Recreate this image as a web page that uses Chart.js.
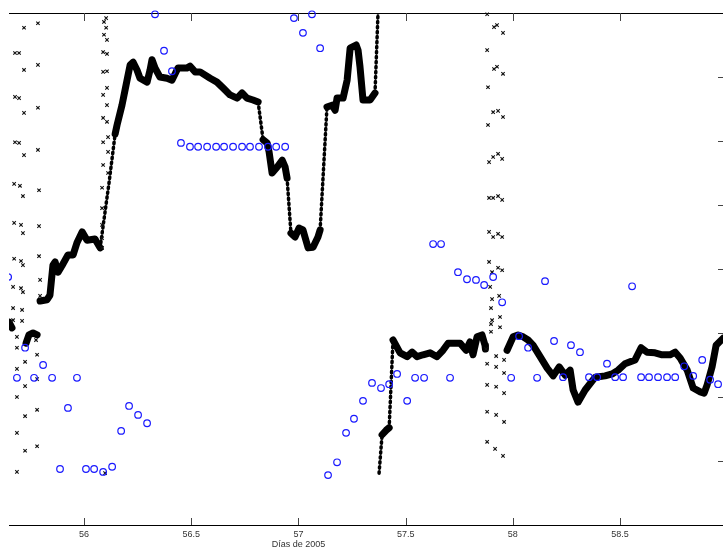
<!DOCTYPE html>
<html>
<head>
<meta charset="utf-8">
<script src="https://cdn.jsdelivr.net/npm/chart.js@4/dist/chart.umd.min.js"></script>
<style>
html,body{margin:0;padding:0;background:#fff;}
#c{display:block;}
</style>
</head>
<body>
<canvas id="c" width="723" height="550"></canvas>
<script>
// ---- data (x: day of 2005, y: arbitrary units) ----
const xTicks = [56, 56.5, 57, 57.5, 58, 58.5];
const yTicks = [1, 2, 3, 4, 5, 6, 7];
const xTitle = 'Días de 2005';
const xTitleAt = 57;

// thick black curve (null = gap)
const curveX = [55.650,55.664,55.664,
  55.7295,55.743,55.762,55.781,55.781,
  55.795,55.827,55.841,55.855,55.865,55.879,55.897,55.925,55.949,55.967,55.991,56.014,56.051,56.075,
  56.117,56.145,56.154,56.177,56.196,56.215,56.229,56.247,56.261,56.294,56.308,56.317,56.331,56.354,56.387,56.410,56.438,56.480,56.494,56.518,56.541,56.588,56.620,56.648,56.681,56.714,56.737,56.760,56.788,56.812,
  56.835,56.854,56.863,56.877,56.900,56.924,56.938,56.947,
  56.965,56.984,57.003,57.021,57.045,57.068,57.091,57.101,
  57.133,57.157,57.171,57.180,57.208,57.227,57.241,57.269,57.278,57.287,57.301,57.334,57.357,57.371,57.373,
  57.376,57.390,57.409,57.423,57.441,57.474,57.507,57.530,57.553,57.581,57.614,57.646,57.674,57.698,57.754,57.782,57.800,57.814,57.833,57.856,57.870,57.872,
  57.959,57.973,58.001,58.024,58.048,58.071,58.094,58.127,58.160,58.188,58.216,58.244,58.267,58.281,58.304,58.337,58.384,58.430,58.463,58.491,58.523,58.570,58.598,58.626,58.663,58.696,58.733,58.757,58.780,58.813,58.841,58.874,58.892,58.906,58.929,58.948,58.981];
const curveY = [3.17,3.08,null,
  2.84,2.97,3.00,2.97,null,
  3.50,3.52,3.59,4.06,4.11,3.95,4.05,4.22,4.22,4.41,4.58,4.45,4.47,4.33,
  5.36,6.11,6.25,6.56,6.875,7.19,7.23,7.11,6.98,6.92,7.11,7.27,7.14,7.00,6.98,6.95,7.14,7.14,7.17,7.08,7.08,6.98,6.92,6.83,6.72,6.67,6.75,6.67,6.64,6.61,
  6.02,5.97,5.83,5.50,5.59,5.70,5.59,5.42,
  4.56,4.50,4.64,4.61,4.33,4.34,4.50,4.61,
  6.53,6.56,6.48,6.67,6.67,6.95,7.45,7.50,7.42,7.16,6.64,6.64,6.75,8.00,null,
  0.81,1.41,1.48,1.52,2.89,2.69,2.63,2.70,2.63,2.66,2.69,2.63,2.73,2.84,2.84,2.73,2.86,2.66,2.94,2.97,2.81,2.75,null,
  2.73,2.94,2.97,2.94,2.89,2.81,2.63,2.45,2.33,2.47,2.34,2.42,2.11,1.92,2.11,2.31,2.33,2.36,2.42,2.52,2.58,2.77,2.70,2.69,2.66,2.66,2.70,2.61,2.42,2.14,2.08,2.06,2.19,2.47,2.81,2.92,2.98];

// scattered black crosses
const crossX = [55.720,55.785,55.678,55.697,55.720,55.785,55.678,55.697,55.720,55.785,55.678,55.697,55.720,55.785,
  55.674,55.701,55.715,55.790,55.674,55.706,55.715,55.790,55.674,55.706,55.715,55.790,55.669,55.706,55.715,55.795,55.795,
  55.669,55.711,55.669,55.711,55.687,55.776,55.687,55.781,55.725,55.687,55.781,55.725,55.687,55.781,55.725,55.687,55.781,55.725,55.687,
  56.103,56.093,56.103,56.093,56.107,56.089,56.107,56.089,56.107,56.107,56.089,56.107,56.089,56.107,56.112,56.089,56.112,56.089,56.112,
  56.084,56.084,56.084,56.084,56.084,56.098,
  57.880,57.912,57.926,57.954,57.880,57.912,57.926,57.954,57.884,57.908,57.931,57.954,57.884,57.889,57.908,57.931,57.950,
  57.889,57.908,57.931,57.950,57.889,57.908,57.931,57.950,57.889,57.903,57.931,57.950,57.894,57.903,57.936,57.898,57.940,57.903,57.898,57.898,57.940,
  57.875,57.922,57.880,57.922,57.959,57.959,57.880,57.922,57.959,57.880,57.922,57.959,57.880,57.917,57.954];
const crossY = [7.77,7.84,7.375,7.375,7.11,7.19,6.69,6.67,6.44,6.52,5.98,5.97,5.78,5.86,
  5.33,5.30,5.14,5.23,4.72,4.69,4.56,4.67,4.16,4.125,4.06,4.20,3.72,3.70,3.64,3.83,3.58,
  3.39,3.36,3.20,3.19,2.94,2.89,2.77,2.66,2.55,2.44,2.28,2.17,2.00,1.80,1.70,1.44,1.23,1.16,0.83,
  7.92,7.86,7.77,7.66,7.58,7.39,7.36,7.08,7.09,6.83,6.72,6.56,6.36,6.30,6.06,5.98,5.83,5.625,5.50,
  5.27,4.95,4.69,4.48,4.33,0.81,
  7.98,7.78,7.81,7.69,7.42,7.125,7.16,7.05,6.84,6.45,6.47,6.375,6.25,5.67,5.75,5.80,5.72,
  5.11,5.11,5.14,5.08,4.58,4.50,4.55,4.50,4.11,3.95,4.02,3.98,3.72,3.53,3.58,3.39,3.25,3.20,3.14,3.02,3.09,
  2.75,2.64,2.52,2.47,2.58,2.375,2.19,2.16,2.06,1.77,1.72,1.61,1.30,1.19,1.08];

// blue open circles
const circX = [55.646,55.725,55.809,55.687,55.767,55.851,55.967,55.925,55.888,56.009,56.047,56.089,56.131,56.173,56.210,56.252,56.294,
  56.331,56.373,56.410,56.452,56.494,56.532,56.574,56.616,56.653,56.695,56.737,56.774,56.816,56.858,56.896,56.938,
  56.979,57.021,57.063,57.101,57.138,57.180,57.222,57.259,57.301,57.343,57.385,57.423,57.460,57.507,57.544,57.586,
  57.628,57.665,57.707,57.744,57.786,57.828,57.866,57.908,57.950,57.992,58.029,58.071,58.113,58.150,58.192,58.234,58.271,58.313,
  58.355,58.393,58.439,58.477,58.514,58.556,58.598,58.635,58.677,58.719,58.757,58.799,58.841,58.883,58.920,58.957];
const circY = [3.875,2.77,2.50,2.30,2.30,2.30,2.30,1.83,0.875,0.875,0.875,0.83,0.91,1.47,1.86,1.72,1.59,
  7.98,7.41,7.09,5.97,5.91,5.91,5.91,5.91,5.91,5.91,5.91,5.91,5.91,5.91,5.91,5.91,
  7.92,7.69,7.98,7.45,0.78,0.98,1.44,1.66,1.94,2.22,2.14,2.20,2.36,1.94,2.30,2.30,
  4.39,4.39,2.30,3.95,3.84,3.83,3.75,3.875,3.48,2.30,2.95,2.77,2.30,3.81,2.875,2.31,2.81,2.70,
  2.31,2.31,2.52,2.31,2.31,3.73,2.31,2.31,2.31,2.31,2.31,2.48,2.33,2.58,2.27,2.20];

const pts = (xs, ys) => xs.map((x, i) => ({x, y: ys[i]}));

const steep = c => Math.abs(c.p1.y - c.p0.y) > 35;

const frame = {
  id: 'frame',
  beforeDatasetsDraw(chart) {
    const {ctx, chartArea: a, scales: {x, y}} = chart;
    ctx.save();
    ctx.strokeStyle = '#000';
    ctx.lineWidth = 1.2;
    ctx.beginPath();
    ctx.moveTo(a.left, a.top + 0.5); ctx.lineTo(a.right, a.top + 0.5);
    ctx.moveTo(a.left, a.bottom + 0.5); ctx.lineTo(a.right, a.bottom + 0.5);
    ctx.stroke();
    ctx.strokeStyle = '#444';
    ctx.lineWidth = 1;
    ctx.beginPath();
    xTicks.forEach(v => {
      const px = Math.round(x.getPixelForValue(v)) + 0.5;
      ctx.moveTo(px, a.bottom); ctx.lineTo(px, a.bottom - 7);
      ctx.moveTo(px, a.top); ctx.lineTo(px, a.top + 8);
    });
    yTicks.forEach(v => {
      const py = Math.round(y.getPixelForValue(v)) + 0.5;
      ctx.moveTo(a.right, py); ctx.lineTo(a.right - 5, py);
    });
    ctx.stroke();
    // axis title (original axis is wider than the visible crop; centred under 57)
    ctx.fillStyle = '#333';
    ctx.font = '9px "Liberation Sans", Arial, sans-serif';
    ctx.textAlign = 'center';
    ctx.textBaseline = 'middle';
    ctx.fillText(xTitle, x.getPixelForValue(xTitleAt), 545);
    ctx.restore();
  }
};

new Chart(document.getElementById('c'), {
  type: 'scatter',
  data: {
    datasets: [
      {
        label: 'circles',
        data: pts(circX, circY),
        showLine: false,
        pointStyle: 'circle',
        pointRadius: 3.3,
        pointBorderWidth: 1.2,
        pointBorderColor: '#1a1aff',
        pointBackgroundColor: 'rgba(0,0,0,0)',
        order: 0,
        clip: {left: 0, top: false, right: 0, bottom: false}
      },
      {
        label: 'crosses',
        data: pts(crossX, crossY),
        showLine: false,
        pointStyle: 'crossRot',
        pointRadius: 2.4,
        pointBorderWidth: 1.1,
        pointBorderColor: '#111',
        order: 1,
        clip: {left: 0, top: false, right: 0, bottom: false}
      },
      {
        label: 'curve',
        data: pts(curveX, curveY),
        showLine: true,
        spanGaps: false,
        pointRadius: 0,
        borderColor: '#000',
        borderWidth: 7,
        borderJoinStyle: 'round',
        borderCapStyle: 'round',
        segment: {
          borderWidth: c => steep(c) ? 3.5 : undefined,
          borderDash: c => steep(c) ? [1.5, 3.5] : undefined
        },
        order: 2,
        clip: {left: 0, top: 0, right: 0, bottom: false}
      }
    ]
  },
  options: {
    responsive: false,
    animation: false,
    events: [],
    layout: {autoPadding: false, padding: {left: 9, top: 13, right: 0, bottom: 0}},
    plugins: {legend: {display: false}, tooltip: {enabled: false}},
    scales: {
      x: {
        type: 'linear',
        position: 'bottom',
        min: 55.65,
        max: 58.98,
        afterBuildTicks: s => { s.ticks = xTicks.map(v => ({value: v})); },
        afterFit: s => { s.height = 25; },
        grid: {display: false, drawTicks: false},
        border: {display: false},
        ticks: {
          autoSkip: false,
          maxRotation: 0,
          padding: 4,
          color: '#333',
          font: {family: 'Liberation Sans, Arial, sans-serif', size: 9},
          callback: v => String(v)
        },
        title: {display: false}
      },
      y: {
        type: 'linear',
        min: 0,
        max: 8,
        display: false
      }
    }
  },
  plugins: [frame]
});
</script>
</body>
</html>
